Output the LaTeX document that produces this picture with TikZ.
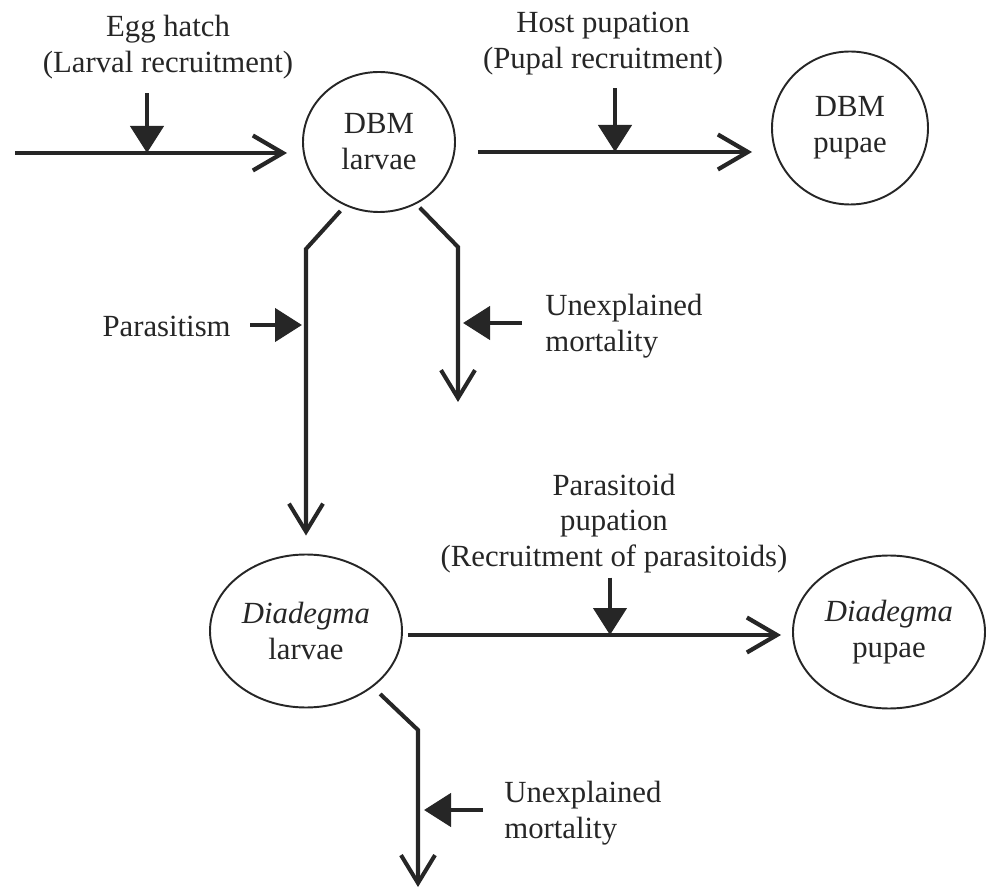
\documentclass[tikz,border=0pt]{standalone}
\usepackage{fontspec}
\setmainfont{Liberation Serif}
\usepackage{tikz}
\usetikzlibrary{arrows.meta,shapes.geometric}

\begin{document}
\begin{tikzpicture}[
        font=\fontsize{17.5}{20.4}\selectfont,
        every node/.style={text=black!85},
        stage/.style={ellipse, draw=black!85, line width=1.1pt, inner sep=0pt, align=center},
        lbl/.style={inner sep=0pt},
        flow/.style={-{Straight Barb[length=0.6cm, width=0.7cm]}, line width=2.4pt, draw=black!85},
        branch/.style={-{Straight Barb[length=0.56cm, width=0.68cm]}, line width=2.3pt, draw=black!85},
        inarr/.style={-{Triangle[length=0.54cm, width=0.66cm]}, line width=2.6pt, draw=black!85}
    ]
        \useasboundingbox (0,0) rectangle (19.74,17.8);

        \node[stage, minimum width=3.04cm, minimum height=2.8cm] (larvae) at (7.58, 14.96) {DBM\\larvae};
        \node[stage, minimum width=3.12cm, minimum height=3.06cm] (pupae) at (17.0, 15.24) {DBM\\pupae};
        \node[stage, minimum width=3.84cm, minimum height=3.06cm] (dlarvae) at (6.12, 5.18) {\textit{Diadegma}\\larvae};
        \node[stage, minimum width=3.84cm, minimum height=3.06cm] (dpupae) at (17.78, 5.16) {\textit{Diadegma}\\pupae};

        \node[lbl, align=center] (egg) at (3.36, 16.86) {Egg hatch\\(Larval recruitment)};
        \node[lbl, align=center] (host) at (12.06, 16.92) {Host pupation\\(Pupal recruitment)};
        \node[lbl, anchor=east] (parasit) at (4.62, 11.28) {Parasitism};
        \node[lbl, anchor=west, align=left] (mum) at (10.9, 11.28) {Unexplained\\mortality};
        \node[lbl, align=center] (ptext) at (12.28, 7.33) {Parasitoid\\pupation\\(Recruitment of parasitoids)};
        \node[lbl, anchor=west, align=left] (dmum) at (10.08, 1.54) {Unexplained\\mortality};

        \coordinate (src) at (0.3, 14.74);
        \coordinate (egjoin) at (2.94, 14.74);
        \coordinate (hpjoin) at (12.3, 14.76);
        \coordinate (lbend) at (6.12, 12.82);
        \coordinate (rbend) at (9.16, 12.86);
        \coordinate (umend) at (9.16, 9.76);
        \coordinate (parjoin) at (6.12, 11.3);
        \coordinate (umjoin) at (9.16, 11.34);
        \coordinate (pjoin) at (12.2, 5.1);
        \coordinate (dbend) at (8.36, 3.2);
        \coordinate (dmend) at (8.36, 0.06);
        \coordinate (dmjoin) at (8.36, 1.6);

        \draw[flow, shorten >=0.3cm] (src) -- (larvae.west |- src);
        \draw[flow, shorten <=0.44cm, shorten >=0.38cm] (larvae.east |- hpjoin) -- (pupae.west |- hpjoin);
        \draw[flow, shorten <=0.1cm, shorten >=0.22cm] (dlarvae.east |- pjoin) -- (dpupae.west |- pjoin);

        \draw[branch, shorten <=0.14cm, shorten >=0.36cm] (larvae.242) -- (lbend) -- (dlarvae.north);
        \draw[branch, shorten <=0.1cm] (larvae.301) -- (rbend) -- (umend);
        \draw[branch, shorten <=0.2cm] (dlarvae.320) -- (dbend) -- (dmend);

        \draw[inarr, shorten <=0.28cm] (egg.south -| egjoin) -- (egjoin);
        \draw[inarr, shorten <=0.25cm] (host.south -| hpjoin) -- (hpjoin);
        \draw[inarr, shorten <=0.38cm, shorten >=0.08cm] (parasit.east |- parjoin) -- (parjoin);
        \draw[inarr, shorten <=0.46cm, shorten >=0.1cm] (mum.west |- umjoin) -- (umjoin);
        \draw[inarr, shorten <=0.08cm] (ptext.south -| pjoin) -- (pjoin);
        \draw[inarr, shorten <=0.42cm, shorten >=0.12cm] (dmum.west |- dmjoin) -- (dmjoin);
    \end{tikzpicture}
\end{document}
